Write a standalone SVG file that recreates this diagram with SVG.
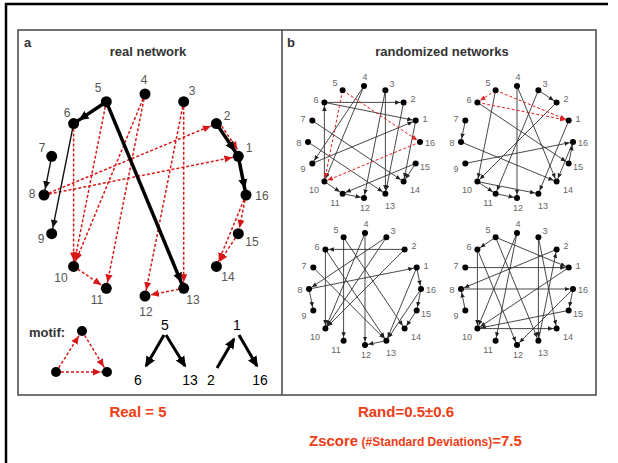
<svg xmlns="http://www.w3.org/2000/svg" width="618" height="463" viewBox="0 0 618 463">
<defs>
<marker id="aK" markerUnits="userSpaceOnUse" markerWidth="10" markerHeight="10" viewBox="0 0 10 10" refX="16" refY="5" orient="auto"><path d="M0,0.5 L10,5 L0,9.5 z" fill="#000"/></marker>
<marker id="aT" markerUnits="userSpaceOnUse" markerWidth="8" markerHeight="8" viewBox="0 0 10 10" refX="17.5" refY="5" orient="auto"><path d="M0,0.5 L10,5 L0,9.5 z" fill="#111"/></marker>
<marker id="aR" markerUnits="userSpaceOnUse" markerWidth="8" markerHeight="8" viewBox="0 0 10 10" refX="17.5" refY="5" orient="auto"><path d="M0,0.5 L10,5 L0,9.5 z" fill="#d81818"/></marker>
<marker id="aB" markerUnits="userSpaceOnUse" markerWidth="5" markerHeight="5" viewBox="0 0 10 10" refX="17" refY="5" orient="auto"><path d="M0,0.5 L10,5 L0,9.5 z" fill="#222"/></marker>
<marker id="aBR" markerUnits="userSpaceOnUse" markerWidth="5.5" markerHeight="5.5" viewBox="0 0 10 10" refX="16" refY="5" orient="auto"><path d="M0,0.5 L10,5 L0,9.5 z" fill="#e02020"/></marker>
<marker id="aM" markerUnits="userSpaceOnUse" markerWidth="11" markerHeight="11" viewBox="0 0 10 10" refX="8.5" refY="5" orient="auto"><path d="M0,0.5 L10,5 L0,9.5 z" fill="#000"/></marker>
</defs>
<style>
text{font-family:"Liberation Sans",Arial,sans-serif}
.na circle{fill:#000}
.nb circle{fill:#000}
.lab{font-size:12px;fill:#555;text-anchor:middle}
.lb{font-size:9px;fill:#666;text-anchor:middle}
.ttl{font-size:13px;font-weight:bold;fill:#333}
.thk{stroke:#000;stroke-width:3.5;marker-end:url(#aK)}
.thn{stroke:#111;stroke-width:1.4;marker-end:url(#aT)}
.rd{stroke:#d81818;stroke-width:1.5;stroke-dasharray:3 2;fill:none;marker-end:url(#aR)}
.e{stroke:#333;stroke-width:0.9;marker-end:url(#aB)}
.er{stroke:#e02020;stroke-width:1;stroke-dasharray:3 2;marker-end:url(#aBR)}
.mo{stroke:#000;stroke-width:3;marker-end:url(#aM)}
.num{font-size:14px;fill:#000;text-anchor:middle}
.res{fill:#f03c14;font-weight:bold;font-size:15px}
</style>
<rect width="618" height="463" fill="#fff"/>
<g id="frame" fill="none">
<path d="M6,463 V4 H608" stroke="#000" stroke-width="2.5"/>
<rect x="18" y="30" width="578" height="365" stroke="#444" stroke-width="1.5"/>
<line x1="282" y1="30" x2="282" y2="395" stroke="#444" stroke-width="1.5"/>
</g>
<g id="titles">
<text x="24" y="47" class="ttl">a</text>
<text x="148" y="56" class="ttl" text-anchor="middle">real network</text>
<text x="287" y="47" class="ttl">b</text>
<text x="442" y="56" class="ttl" text-anchor="middle">randomized networks</text>
</g>
<g id="connectors-a">
<line class="rd" x1="44" y1="195" x2="216.4" y2="123.6"/>
<line class="rd" x1="44" y1="195" x2="238.3" y2="156.3"/>
<line class="rd" x1="106.3" y1="101.7" x2="73.6" y2="266.4"/>
<line class="rd" x1="145" y1="94" x2="73.6" y2="266.4"/>
<line class="rd" x1="145" y1="94" x2="106.3" y2="288.3"/>
<line class="rd" x1="73.6" y1="123.6" x2="73.6" y2="266.4"/>
<line class="rd" x1="73.6" y1="266.4" x2="106.3" y2="288.3"/>
<line class="rd" x1="183.7" y1="101.7" x2="145" y2="296"/>
<line class="rd" x1="183.7" y1="101.7" x2="183.7" y2="288.3"/>
<line class="rd" x1="183.7" y1="288.3" x2="145" y2="296"/>
<line class="rd" x1="246" y1="195" x2="238.3" y2="233.7"/>
<line class="rd" x1="246" y1="195" x2="216.4" y2="266.4"/>
<line class="rd" x1="238.3" y1="233.7" x2="216.4" y2="266.4"/>
<line class="rd" x1="218.9" y1="121.9" x2="240.8" y2="154.6"/>
<line class="thn" x1="73.6" y1="123.6" x2="51.7" y2="233.7"/>
<line class="thn" x1="51.7" y1="156.3" x2="44" y2="195"/>
<line class="thk" x1="106.3" y1="101.7" x2="73.6" y2="123.6"/>
<line class="thk" x1="106.3" y1="101.7" x2="183.7" y2="288.3"/>
<line class="thk" x1="216.4" y1="123.6" x2="238.3" y2="156.3"/>
<line class="thk" x1="238.3" y1="156.3" x2="246" y2="195"/>
</g>
<g id="nodes-a" class="na">
<g id="a1"><circle cx="238.3" cy="156.3" r="5.5"/><text class="lab" x="249" y="152">1</text></g>
<g id="a2"><circle cx="216.4" cy="123.6" r="5.5"/><text class="lab" x="227" y="120">2</text></g>
<g id="a3"><circle cx="183.7" cy="101.7" r="5.5"/><text class="lab" x="192" y="95">3</text></g>
<g id="a4"><circle cx="145" cy="94" r="5.5"/><text class="lab" x="144" y="84">4</text></g>
<g id="a5"><circle cx="106.3" cy="101.7" r="5.5"/><text class="lab" x="98" y="92">5</text></g>
<g id="a6"><circle cx="73.6" cy="123.6" r="5.5"/><text class="lab" x="67" y="117">6</text></g>
<g id="a7"><circle cx="51.7" cy="156.3" r="5.5"/><text class="lab" x="42" y="152">7</text></g>
<g id="a8"><circle cx="44" cy="195" r="5.5"/><text class="lab" x="32" y="198">8</text></g>
<g id="a9"><circle cx="51.7" cy="233.7" r="5.5"/><text class="lab" x="41" y="243">9</text></g>
<g id="a10"><circle cx="73.6" cy="266.4" r="5.5"/><text class="lab" x="61" y="282">10</text></g>
<g id="a11"><circle cx="106.3" cy="288.3" r="5.5"/><text class="lab" x="97" y="304">11</text></g>
<g id="a12"><circle cx="145" cy="296" r="5.5"/><text class="lab" x="146" y="316">12</text></g>
<g id="a13"><circle cx="183.7" cy="288.3" r="5.5"/><text class="lab" x="193" y="304">13</text></g>
<g id="a14"><circle cx="216.4" cy="266.4" r="5.5"/><text class="lab" x="228" y="281">14</text></g>
<g id="a15"><circle cx="238.3" cy="233.7" r="5.5"/><text class="lab" x="252" y="246">15</text></g>
<g id="a16"><circle cx="246" cy="195" r="5.5"/><text class="lab" x="262" y="200">16</text></g>
</g>
<g id="motif">
<text x="29" y="337" class="ttl">motif:</text>
<g id="motif-connectors">
<line class="rd" x1="56" y1="372" x2="82" y2="331"/>
<line class="rd" x1="82" y1="331" x2="107" y2="372"/>
<line class="rd" x1="56" y1="372" x2="107" y2="372"/>
<line class="mo" x1="164" y1="335" x2="146" y2="366"/>
<line class="mo" x1="166" y1="335" x2="185" y2="366"/>
<line class="mo" x1="217" y1="368" x2="234" y2="339"/>
<line class="mo" x1="239" y1="335" x2="257" y2="366"/>
</g>
<g id="m-top" class="na"><circle cx="82" cy="331" r="5"/></g>
<g id="m-left" class="na"><circle cx="56" cy="372" r="5"/></g>
<g id="m-right" class="na"><circle cx="107" cy="372" r="5"/></g>
<text class="num" x="165" y="330">5</text>
<text class="num" x="138" y="385">6</text>
<text class="num" x="190" y="385">13</text>
<text class="num" x="237" y="330">1</text>
<text class="num" x="211" y="385">2</text>
<text class="num" x="260" y="385">16</text>
</g>

<g id="net-tl" transform="translate(364,142)">
<g class="conn">
<line class="e" x1="-39.6" y1="-39.6" x2="39.6" y2="-39.6"/>
<line class="e" x1="-39.6" y1="39.6" x2="-39.6" y2="-39.6"/>
<line class="e" x1="0" y1="-56" x2="-39.6" y2="39.6"/>
<line class="e" x1="0" y1="-56" x2="-51.7" y2="21.4"/>
<line class="e" x1="21.4" y1="-51.7" x2="21.4" y2="51.7"/>
<line class="e" x1="39.6" y1="-39.6" x2="21.4" y2="51.7"/>
<line class="e" x1="21.4" y1="-51.7" x2="0" y2="56"/>
<line class="e" x1="-51.7" y1="-21.4" x2="39.6" y2="39.6"/>
<line class="e" x1="-56" y1="0" x2="21.4" y2="51.7"/>
<line class="e" x1="-51.7" y1="21.4" x2="51.7" y2="-21.4"/>
<line class="e" x1="51.7" y1="-21.4" x2="39.6" y2="39.6"/>
<line class="e" x1="51.7" y1="21.4" x2="-21.4" y2="51.7"/>
<line class="e" x1="51.7" y1="21.4" x2="39.6" y2="39.6"/>
<line class="e" x1="-39.6" y1="-39.6" x2="51.7" y2="-21.4"/>
<line class="e" x1="-21.4" y1="51.7" x2="0" y2="56"/>
<line class="e" x1="-39.6" y1="39.6" x2="-21.4" y2="51.7"/>
<line class="er" x1="-21.4" y1="-51.7" x2="56" y2="0"/>
<line class="er" x1="-21.4" y1="-51.7" x2="-39.6" y2="39.6"/>
<line class="er" x1="56" y1="0" x2="-39.6" y2="39.6"/>
</g>
<g class="nb">
<g id="tl1"><circle cx="51.7" cy="-21.4" r="3"/><text class="lb" x="61" y="-20">1</text></g>
<g id="tl2"><circle cx="39.6" cy="-39.6" r="3"/><text class="lb" x="49" y="-40">2</text></g>
<g id="tl3"><circle cx="21.4" cy="-51.7" r="3"/><text class="lb" x="28" y="-55">3</text></g>
<g id="tl4"><circle cx="0" cy="-56" r="3"/><text class="lb" x="1" y="-62">4</text></g>
<g id="tl5"><circle cx="-21.4" cy="-51.7" r="3"/><text class="lb" x="-29" y="-56">5</text></g>
<g id="tl6"><circle cx="-39.6" cy="-39.6" r="3"/><text class="lb" x="-48" y="-39">6</text></g>
<g id="tl7"><circle cx="-51.7" cy="-21.4" r="3"/><text class="lb" x="-61" y="-20">7</text></g>
<g id="tl8"><circle cx="-56" cy="0" r="3"/><text class="lb" x="-65" y="4">8</text></g>
<g id="tl9"><circle cx="-51.7" cy="21.4" r="3"/><text class="lb" x="-61" y="30">9</text></g>
<g id="tl10"><circle cx="-39.6" cy="39.6" r="3"/><text class="lb" x="-50" y="51">10</text></g>
<g id="tl11"><circle cx="-21.4" cy="51.7" r="3"/><text class="lb" x="-29" y="64">11</text></g>
<g id="tl12"><circle cx="0" cy="56" r="3"/><text class="lb" x="1" y="69">12</text></g>
<g id="tl13"><circle cx="21.4" cy="51.7" r="3"/><text class="lb" x="26" y="67">13</text></g>
<g id="tl14"><circle cx="39.6" cy="39.6" r="3"/><text class="lb" x="51" y="51">14</text></g>
<g id="tl15"><circle cx="51.7" cy="21.4" r="3"/><text class="lb" x="61" y="28">15</text></g>
<g id="tl16"><circle cx="56" cy="0" r="3"/><text class="lb" x="66" y="4">16</text></g>
</g>
</g>

<g id="net-tr" transform="translate(517,142)">
<g class="conn">
<line class="e" x1="0" y1="-56" x2="0" y2="56"/>
<line class="e" x1="21.4" y1="-51.7" x2="39.6" y2="-39.6"/>
<line class="e" x1="-39.6" y1="-39.6" x2="51.7" y2="21.4"/>
<line class="e" x1="-21.4" y1="-51.7" x2="-39.6" y2="39.6"/>
<line class="e" x1="21.4" y1="-51.7" x2="-21.4" y2="51.7"/>
<line class="e" x1="39.6" y1="-39.6" x2="-39.6" y2="39.6"/>
<line class="e" x1="0" y1="-56" x2="39.6" y2="39.6"/>
<line class="e" x1="-51.7" y1="-21.4" x2="-56" y2="0"/>
<line class="e" x1="-56" y1="0" x2="39.6" y2="39.6"/>
<line class="e" x1="-51.7" y1="21.4" x2="56" y2="0"/>
<line class="e" x1="51.7" y1="21.4" x2="56" y2="0"/>
<line class="e" x1="51.7" y1="-21.4" x2="21.4" y2="51.7"/>
<line class="e" x1="-39.6" y1="39.6" x2="-21.4" y2="51.7"/>
<line class="e" x1="-21.4" y1="51.7" x2="0" y2="56"/>
<line class="e" x1="-39.6" y1="39.6" x2="21.4" y2="51.7"/>
<line class="e" x1="56" y1="0" x2="39.6" y2="39.6"/>
<line class="er" x1="-21.4" y1="-51.7" x2="-39.6" y2="-39.6"/>
<line class="er" x1="-21.4" y1="-51.7" x2="51.7" y2="-21.4"/>
<line class="er" x1="-39.6" y1="-39.6" x2="51.7" y2="-21.4"/>
</g>
<g class="nb">
<g id="tr1"><circle cx="51.7" cy="-21.4" r="3"/><text class="lb" x="61" y="-20">1</text></g>
<g id="tr2"><circle cx="39.6" cy="-39.6" r="3"/><text class="lb" x="49" y="-40">2</text></g>
<g id="tr3"><circle cx="21.4" cy="-51.7" r="3"/><text class="lb" x="28" y="-55">3</text></g>
<g id="tr4"><circle cx="0" cy="-56" r="3"/><text class="lb" x="1" y="-62">4</text></g>
<g id="tr5"><circle cx="-21.4" cy="-51.7" r="3"/><text class="lb" x="-29" y="-56">5</text></g>
<g id="tr6"><circle cx="-39.6" cy="-39.6" r="3"/><text class="lb" x="-48" y="-39">6</text></g>
<g id="tr7"><circle cx="-51.7" cy="-21.4" r="3"/><text class="lb" x="-61" y="-20">7</text></g>
<g id="tr8"><circle cx="-56" cy="0" r="3"/><text class="lb" x="-65" y="4">8</text></g>
<g id="tr9"><circle cx="-51.7" cy="21.4" r="3"/><text class="lb" x="-61" y="30">9</text></g>
<g id="tr10"><circle cx="-39.6" cy="39.6" r="3"/><text class="lb" x="-50" y="51">10</text></g>
<g id="tr11"><circle cx="-21.4" cy="51.7" r="3"/><text class="lb" x="-29" y="64">11</text></g>
<g id="tr12"><circle cx="0" cy="56" r="3"/><text class="lb" x="1" y="69">12</text></g>
<g id="tr13"><circle cx="21.4" cy="51.7" r="3"/><text class="lb" x="26" y="67">13</text></g>
<g id="tr14"><circle cx="39.6" cy="39.6" r="3"/><text class="lb" x="51" y="51">14</text></g>
<g id="tr15"><circle cx="51.7" cy="21.4" r="3"/><text class="lb" x="61" y="28">15</text></g>
<g id="tr16"><circle cx="56" cy="0" r="3"/><text class="lb" x="66" y="4">16</text></g>
</g>
</g>

<g id="net-bl" transform="translate(365,289)">
<g class="conn">
<line class="e" x1="39.6" y1="-39.6" x2="-39.6" y2="-39.6"/>
<line class="e" x1="0" y1="-56" x2="0" y2="56"/>
<line class="e" x1="-21.4" y1="-51.7" x2="-21.4" y2="51.7"/>
<line class="e" x1="-21.4" y1="-51.7" x2="39.6" y2="39.6"/>
<line class="e" x1="21.4" y1="-51.7" x2="-39.6" y2="39.6"/>
<line class="e" x1="21.4" y1="-51.7" x2="-56" y2="0"/>
<line class="e" x1="39.6" y1="-39.6" x2="-39.6" y2="39.6"/>
<line class="e" x1="-39.6" y1="-39.6" x2="21.4" y2="51.7"/>
<line class="e" x1="-39.6" y1="-39.6" x2="-39.6" y2="39.6"/>
<line class="e" x1="-51.7" y1="-21.4" x2="21.4" y2="51.7"/>
<line class="e" x1="-56" y1="0" x2="51.7" y2="-21.4"/>
<line class="e" x1="-56" y1="0" x2="-51.7" y2="21.4"/>
<line class="e" x1="51.7" y1="-21.4" x2="56" y2="0"/>
<line class="e" x1="51.7" y1="-21.4" x2="21.4" y2="51.7"/>
<line class="e" x1="56" y1="0" x2="21.4" y2="51.7"/>
<line class="e" x1="51.7" y1="21.4" x2="39.6" y2="39.6"/>
<line class="e" x1="56" y1="0" x2="51.7" y2="21.4"/>
<line class="e" x1="0" y1="-56" x2="-39.6" y2="39.6"/>
<line class="e" x1="21.4" y1="51.7" x2="0" y2="56"/>
</g>
<g class="nb">
<g id="bl1"><circle cx="51.7" cy="-21.4" r="3"/><text class="lb" x="61" y="-20">1</text></g>
<g id="bl2"><circle cx="39.6" cy="-39.6" r="3"/><text class="lb" x="49" y="-40">2</text></g>
<g id="bl3"><circle cx="21.4" cy="-51.7" r="3"/><text class="lb" x="28" y="-55">3</text></g>
<g id="bl4"><circle cx="0" cy="-56" r="3"/><text class="lb" x="1" y="-62">4</text></g>
<g id="bl5"><circle cx="-21.4" cy="-51.7" r="3"/><text class="lb" x="-29" y="-56">5</text></g>
<g id="bl6"><circle cx="-39.6" cy="-39.6" r="3"/><text class="lb" x="-48" y="-39">6</text></g>
<g id="bl7"><circle cx="-51.7" cy="-21.4" r="3"/><text class="lb" x="-61" y="-20">7</text></g>
<g id="bl8"><circle cx="-56" cy="0" r="3"/><text class="lb" x="-65" y="4">8</text></g>
<g id="bl9"><circle cx="-51.7" cy="21.4" r="3"/><text class="lb" x="-61" y="30">9</text></g>
<g id="bl10"><circle cx="-39.6" cy="39.6" r="3"/><text class="lb" x="-50" y="51">10</text></g>
<g id="bl11"><circle cx="-21.4" cy="51.7" r="3"/><text class="lb" x="-29" y="64">11</text></g>
<g id="bl12"><circle cx="0" cy="56" r="3"/><text class="lb" x="1" y="69">12</text></g>
<g id="bl13"><circle cx="21.4" cy="51.7" r="3"/><text class="lb" x="26" y="67">13</text></g>
<g id="bl14"><circle cx="39.6" cy="39.6" r="3"/><text class="lb" x="51" y="51">14</text></g>
<g id="bl15"><circle cx="51.7" cy="21.4" r="3"/><text class="lb" x="61" y="28">15</text></g>
<g id="bl16"><circle cx="56" cy="0" r="3"/><text class="lb" x="66" y="4">16</text></g>
</g>
</g>

<g id="net-br" transform="translate(517,289)">
<g class="conn">
<line class="e" x1="-51.7" y1="-21.4" x2="51.7" y2="-21.4"/>
<line class="e" x1="-56" y1="0" x2="56" y2="0"/>
<line class="e" x1="-21.4" y1="-51.7" x2="51.7" y2="-21.4"/>
<line class="e" x1="-21.4" y1="-51.7" x2="-39.6" y2="-39.6"/>
<line class="e" x1="-21.4" y1="-51.7" x2="21.4" y2="51.7"/>
<line class="e" x1="-39.6" y1="-39.6" x2="0" y2="56"/>
<line class="e" x1="-39.6" y1="-39.6" x2="-39.6" y2="39.6"/>
<line class="e" x1="0" y1="-56" x2="-39.6" y2="39.6"/>
<line class="e" x1="0" y1="-56" x2="-21.4" y2="51.7"/>
<line class="e" x1="21.4" y1="-51.7" x2="39.6" y2="39.6"/>
<line class="e" x1="21.4" y1="-51.7" x2="21.4" y2="51.7"/>
<line class="e" x1="39.6" y1="-39.6" x2="-56" y2="0"/>
<line class="e" x1="21.4" y1="51.7" x2="39.6" y2="-39.6"/>
<line class="e" x1="51.7" y1="-21.4" x2="-39.6" y2="39.6"/>
<line class="e" x1="56" y1="0" x2="0" y2="56"/>
<line class="e" x1="51.7" y1="21.4" x2="-39.6" y2="39.6"/>
<line class="e" x1="-39.6" y1="39.6" x2="39.6" y2="39.6"/>
<line class="e" x1="-51.7" y1="21.4" x2="-56" y2="0"/>
<line class="e" x1="56" y1="0" x2="51.7" y2="21.4"/>
</g>
<g class="nb">
<g id="br1"><circle cx="51.7" cy="-21.4" r="3"/><text class="lb" x="61" y="-20">1</text></g>
<g id="br2"><circle cx="39.6" cy="-39.6" r="3"/><text class="lb" x="49" y="-40">2</text></g>
<g id="br3"><circle cx="21.4" cy="-51.7" r="3"/><text class="lb" x="28" y="-55">3</text></g>
<g id="br4"><circle cx="0" cy="-56" r="3"/><text class="lb" x="1" y="-62">4</text></g>
<g id="br5"><circle cx="-21.4" cy="-51.7" r="3"/><text class="lb" x="-29" y="-56">5</text></g>
<g id="br6"><circle cx="-39.6" cy="-39.6" r="3"/><text class="lb" x="-48" y="-39">6</text></g>
<g id="br7"><circle cx="-51.7" cy="-21.4" r="3"/><text class="lb" x="-61" y="-20">7</text></g>
<g id="br8"><circle cx="-56" cy="0" r="3"/><text class="lb" x="-65" y="4">8</text></g>
<g id="br9"><circle cx="-51.7" cy="21.4" r="3"/><text class="lb" x="-61" y="30">9</text></g>
<g id="br10"><circle cx="-39.6" cy="39.6" r="3"/><text class="lb" x="-50" y="51">10</text></g>
<g id="br11"><circle cx="-21.4" cy="51.7" r="3"/><text class="lb" x="-29" y="64">11</text></g>
<g id="br12"><circle cx="0" cy="56" r="3"/><text class="lb" x="1" y="69">12</text></g>
<g id="br13"><circle cx="21.4" cy="51.7" r="3"/><text class="lb" x="26" y="67">13</text></g>
<g id="br14"><circle cx="39.6" cy="39.6" r="3"/><text class="lb" x="51" y="51">14</text></g>
<g id="br15"><circle cx="51.7" cy="21.4" r="3"/><text class="lb" x="61" y="28">15</text></g>
<g id="br16"><circle cx="56" cy="0" r="3"/><text class="lb" x="66" y="4">16</text></g>
</g>
</g>

<g id="results">
<text class="res" x="138" y="417" text-anchor="middle">Real = 5</text>
<text class="res" x="406" y="417" text-anchor="middle">Rand=0.5±0.6</text>
<text class="res" x="309" y="446">Zscore<tspan font-size="12"> (#Standard Deviations)</tspan>=7.5</text>
</g>
</svg>
